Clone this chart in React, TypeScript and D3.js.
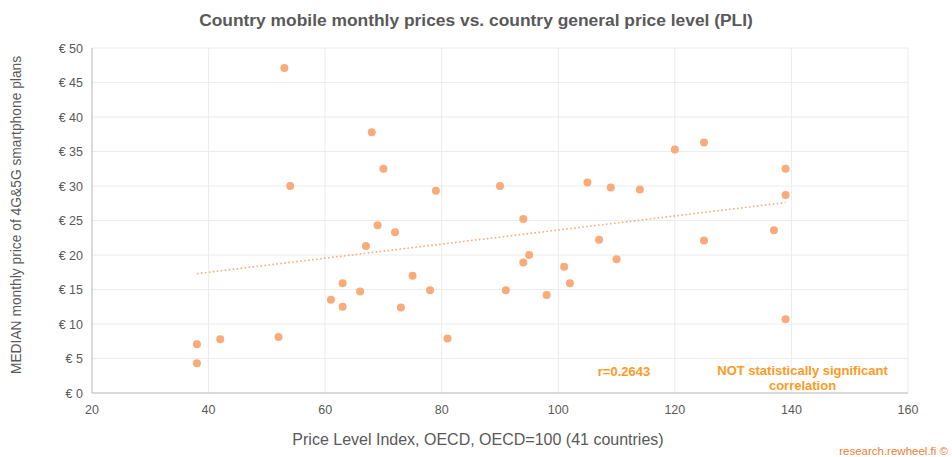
import React from "react";
import * as d3 from "d3";

const pliValues = [53, 68, 70, 54, 79, 90, 69, 72, 67, 75, 63, 66, 78, 61, 63, 73, 91, 81, 52, 42, 38, 38, 94, 95, 94, 98, 101, 102, 105, 109, 107, 110, 114, 120, 125, 125, 139, 139, 137, 139];
const priceValues = [47.1, 37.8, 32.5, 30.0, 29.3, 30.0, 24.3, 23.3, 21.3, 17.0, 15.9, 14.7, 14.9, 13.5, 12.5, 12.4, 14.9, 7.9, 8.1, 7.8, 7.05, 4.3, 25.2, 20.0, 18.9, 14.2, 18.3, 15.9, 30.5, 29.8, 22.2, 19.4, 29.5, 35.3, 36.3, 22.1, 32.5, 28.7, 23.6, 10.7];
const trendX = [38, 139];
const trendY = [17.3, 27.6];
const xTicks = [20, 40, 60, 80, 100, 120, 140, 160];
const yTicks = [0, 5, 10, 15, 20, 25, 30, 35, 40, 45, 50];

const W = 952, H = 457;
const M = { left: 92, right: 908, top: 48, bottom: 393 };
const FONT = "Arial, 'Liberation Sans', sans-serif";
const ORANGE = "#FF9A1F";
const DOT = "#FBAA7A";

export default function App() {
  const x = d3.scaleLinear().domain([20, 160]).range([M.left, M.right]);
  const y = d3.scaleLinear().domain([0, 50]).range([M.bottom, M.top]);
  const line = d3.line<number>().x((d) => x(trendX[d])).y((d) => y(trendY[d]));
  return (
    <svg width={W} height={H} style={{ position: "absolute", left: 0, top: 0, background: "#fff" }} fontFamily={FONT}>
      <rect width={W} height={H} fill="#fff" />
      <text x={476} y={26} textAnchor="middle" fontSize={17.4} fontWeight="bold" fill="#595959">
        Country mobile monthly prices vs. country general price level (PLI)
      </text>
      {yTicks.map((t) => (
        <line key={"gy" + t} x1={M.left} x2={M.right} y1={y(t)} y2={y(t)} stroke="#ececec" strokeWidth={1} />
      ))}
      {xTicks.map((t) => (
        <line key={"gx" + t} x1={x(t)} x2={x(t)} y1={M.top} y2={M.bottom} stroke="#ececec" strokeWidth={1} />
      ))}
      <line x1={M.left} x2={M.left} y1={M.top} y2={M.bottom} stroke="#bfbfbf" strokeWidth={1} />
      <line x1={M.left} x2={M.right} y1={M.bottom} y2={M.bottom} stroke="#bfbfbf" strokeWidth={1} />
      {yTicks.map((t) => (
        <text key={"ty" + t} x={83} y={y(t) + 4.5} textAnchor="end" fontSize={12.5} fill="#595959">
          {"€ " + t}
        </text>
      ))}
      {xTicks.map((t) => (
        <text key={"tx" + t} x={x(t)} y={414} textAnchor="middle" fontSize={12.5} fill="#595959">
          {t}
        </text>
      ))}
      <text x={478} y={445} textAnchor="middle" fontSize={16} fill="#595959">
        Price Level Index, OECD, OECD=100 (41 countries)
      </text>
      <text transform={`translate(21, ${215}) rotate(-90)`} textAnchor="middle" fontSize={13.8} fill="#595959">
        MEDIAN monthly price of 4G&amp;5G smartphone plans
      </text>
      <path d={line([0, 1]) || ""} fill="none" stroke={DOT} strokeWidth={1.6} strokeDasharray="1.6 2.4" />
      {pliValues.map((v, i) => (
        <circle key={"p" + i} cx={x(v)} cy={y(priceValues[i])} r={4} fill={DOT} />
      ))}
      <text x={624} y={376} textAnchor="middle" fontSize={13} fontWeight="bold" fill={ORANGE}>
        r=0.2643
      </text>
      <text x={802.5} y={375} textAnchor="middle" fontSize={13} fontWeight="bold" fill={ORANGE}>
        NOT statistically significant
      </text>
      <text x={802.5} y={389.5} textAnchor="middle" fontSize={13} fontWeight="bold" fill={ORANGE}>
        correlation
      </text>
      <text x={948} y={455} textAnchor="end" fontSize={11.5} fill="#F08030">
        research.rewheel.fi ©
      </text>
    </svg>
  );
}
